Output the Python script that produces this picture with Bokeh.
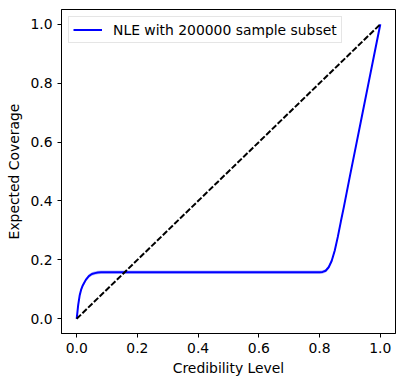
from bokeh.plotting import figure
from bokeh.models import Range1d, FixedTicker, PrintfTickFormatter, Legend, LegendItem
from bokeh.embed import file_html
from bokeh.resources import INLINE

# Data
cred = [0.0, 0.005, 0.01, 0.015, 0.02, 0.03, 0.04, 0.05, 0.06, 0.07, 0.08, 0.1,
        0.2, 0.3, 0.4, 0.5, 0.6, 0.7, 0.8, 0.81, 0.82, 0.83, 0.84, 0.85, 0.86,
        0.87, 0.88, 0.9, 0.92, 0.94, 0.96, 0.98, 1.0]
cov = [0.0, 0.047, 0.08, 0.1, 0.113, 0.132, 0.145, 0.152, 0.155, 0.157, 0.158, 0.158,
       0.158, 0.158, 0.158, 0.158, 0.158, 0.158, 0.158, 0.159, 0.163, 0.175, 0.197, 0.232, 0.278,
       0.33, 0.38, 0.485, 0.588, 0.691, 0.794, 0.897, 1.0]
band_half = 0.006
cov_lo = [max(0.0, c - band_half) for c in cov]
cov_hi = [min(1.0, c + band_half) for c in cov]
diag = [0.0, 1.0]
ticks = [0.0, 0.2, 0.4, 0.6, 0.8, 1.0]
legend_label = "NLE with 200000 sample subset"

FONT = "DejaVu Sans"
FS = "13.9px"

p = figure(frame_width=334, frame_height=324, output_backend="svg", toolbar_location=None,
           x_range=Range1d(-0.05, 1.05), y_range=Range1d(-0.05, 1.05),
           min_border_left=61, min_border_top=9, min_border_right=8, min_border_bottom=50)
p.background_fill_color = "white"
p.border_fill_color = "white"
p.outline_line_color = "black"
p.outline_line_width = 1
p.xgrid.visible = False
p.ygrid.visible = False

for ax in (p.xaxis[0], p.yaxis[0]):
    ax.ticker = FixedTicker(ticks=ticks)
    ax.formatter = PrintfTickFormatter(format="%.1f")
    ax.major_tick_in = 0
    ax.major_tick_out = 4
    ax.minor_tick_in = 0
    ax.minor_tick_out = 0
    ax.axis_line_color = "black"
    ax.major_tick_line_color = "black"
    ax.major_label_text_font = FONT
    ax.major_label_text_font_size = FS
    ax.major_label_text_color = "black"
    ax.axis_label_text_font = FONT
    ax.axis_label_text_font_size = FS
    ax.axis_label_text_font_style = "normal"
    ax.axis_label_text_color = "black"
    ax.major_label_standoff = 5

p.xaxis.axis_label = "Credibility Level"
p.yaxis.axis_label = "Expected Coverage"
p.xaxis.axis_label_standoff = 4
p.yaxis.axis_label_standoff = 5

p.varea(x=cred, y1=cov_lo, y2=cov_hi, fill_color="blue", fill_alpha=0.25)
ln = p.line(cred, cov, line_color="blue", line_width=2)
p.line(diag, diag, line_color="black", line_width=2, line_dash="6 2")

legend = Legend(items=[LegendItem(label=legend_label, renderers=[ln])],
                location="top_left")
legend.label_text_font = FONT
legend.label_text_font_size = FS
legend.label_text_color = "black"
legend.border_line_color = "#cccccc"
legend.border_line_width = 1
legend.background_fill_alpha = 0.8
legend.margin = 7
legend.padding = 4
legend.glyph_width = 29
legend.glyph_height = 17
legend.label_height = 17
legend.label_standoff = 11
legend.spacing = 0
p.add_layout(legend)

open("out.html", "w").write(file_html(p, INLINE))
